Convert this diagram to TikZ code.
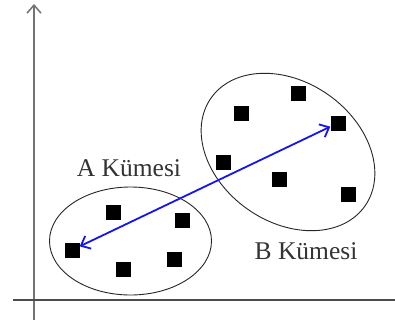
\documentclass[tikz,border=0pt]{standalone}
\usepackage{fontspec}
\setmainfont{Liberation Serif}
\usetikzlibrary{arrows.meta}

\begin{document}
\begin{tikzpicture}[x=1pt,y=1pt,>={Straight Barb[length=8pt,width=14pt]}]
    \tikzset{
        point/.style={fill=black,minimum size=15pt,inner sep=0pt},
        axisline/.style={line width=1.5pt},
        cluster/.style={draw=black!85,line width=0.9pt},
        clustername/.style={font=\fontsize{25.5}{28}\selectfont,text=black!80},
        span/.style={<->,draw={rgb,255:red,20;green,20;blue,240},line width=1.8pt}
    }
    \useasboundingbox (0,0) rectangle (395,322);

    \coordinate (ybot) at (34,2);
    \coordinate (ytop) at (34,318);
    \coordinate (xleft) at (13,22);
    \coordinate (xright) at (395,22);
    \draw[axisline,draw=black!55,->] (ybot) -- (ytop);
    \draw[axisline,draw=black!70] (xleft) -- (xright);

    \draw[cluster] (130.5,81) ellipse (81 and 54);
    \draw[cluster,rotate around={-35:(288,170)}] (288,170) ellipse (94 and 70);

    \node[point] (a1) at (72,72) {};
    \node[point] (a2) at (113,110) {};
    \node[point] (a3) at (182,102) {};
    \node[point] (a4) at (123,53) {};
    \node[point] (a5) at (174,63) {};

    \node[point] (b1) at (298,229) {};
    \node[point] (b2) at (241,209) {};
    \node[point] (b3) at (338,199) {};
    \node[point] (b4) at (223,160) {};
    \node[point] (b5) at (279,143) {};
    \node[point] (b6) at (348,128) {};

    \node[clustername] (nameA) at (129,154) {A Kümesi};
    \node[clustername] (nameB) at (306,71) {B Kümesi};

    \draw[span] (a1) -- (b3);
\end{tikzpicture}
\end{document}
